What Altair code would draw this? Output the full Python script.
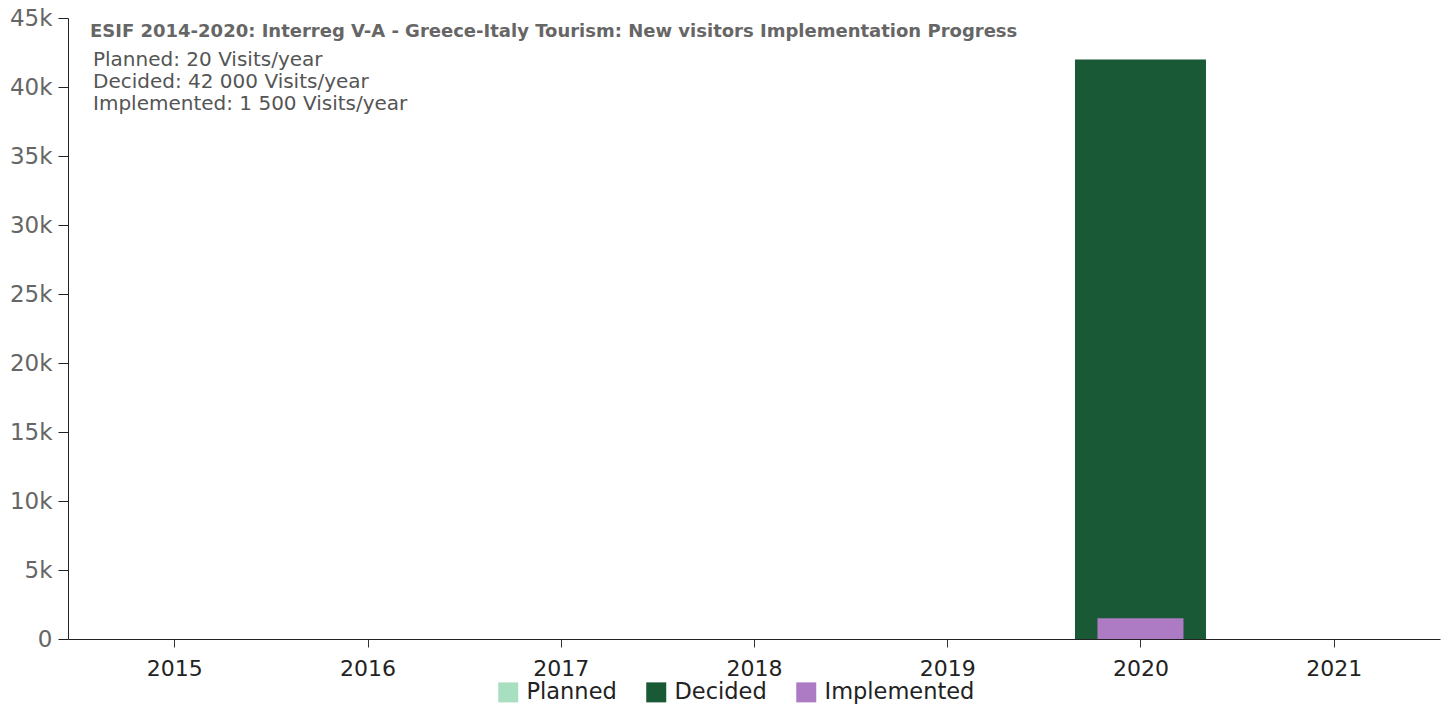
import altair as alt
import pandas as pd

series = ["Planned", "Decided", "Implemented"]
colors = ["#a8dfc0", "#195936", "#ad7ac4"]
years = [2020, 2020, 2020]
values = [20, 42000, 1500]
bar_px = [108, 131, 86]
year_ticks = [2015, 2016, 2017, 2018, 2019, 2020, 2021]
y_ticks = [0, 5000, 10000, 15000, 20000, 25000, 30000, 35000, 40000, 45000]

title_text = "ESIF 2014-2020: Interreg V-A - Greece-Italy Tourism: New visitors Implementation Progress"
sub_lines = ["Planned: 20 Visits/year", "Decided: 42 000 Visits/year", "Implemented: 1 500 Visits/year"]

df = pd.DataFrame({"series": series, "year": years, "value": values})

FONT = "DejaVu Sans"

xscale = alt.Scale(domain=[2014.45, 2021.55], nice=False, zero=False, padding=0)
yscale = alt.Scale(domain=[0, 45000], nice=False)
cscale = alt.Scale(domain=series, range=colors)

def bar_layer(i):
    return alt.Chart(df).transform_filter(
        alt.datum.series == series[i]
    ).mark_bar(size=bar_px[i]).encode(
        x=alt.X("year:Q", scale=xscale,
                axis=alt.Axis(values=year_ticks, format="d", title=None, grid=False,
                              labelFontSize=22, labelColor="#222", labelFont=FONT,
                              labelPadding=11, tickSize=8, tickColor="#333",
                              domainColor="#222", labelFlush=False)),
        y=alt.Y("value:Q", scale=yscale,
                axis=alt.Axis(values=y_ticks, title=None, grid=False,
                              labelExpr="datum.value == 0 ? '0' : (datum.value / 1000) + 'k'",
                              labelFontSize=23, labelColor="#666", labelFont=FONT,
                              labelPadding=6, tickSize=10, tickColor="#222",
                              domainColor="#222")),
        color=alt.Color("series:N", scale=cscale,
                        legend=alt.Legend(title=None, orient="none", direction="horizontal",
                                          legendX=429, legendY=663,
                                          symbolType="square", symbolSize=400,
                                          symbolStrokeWidth=0,
                                          labelFontSize=22.5, labelFont=FONT, labelColor="#222",
                                          columnPadding=28, labelOffset=7)),
    )

bars = [bar_layer(0), bar_layer(1), bar_layer(2)]

title_df = pd.DataFrame({"t": [title_text]})
title = alt.Chart(title_df).mark_text(
    align="left", baseline="middle", font=FONT, fontSize=18, fontWeight="bold", color="#666"
).encode(text="t:N", x=alt.value(22), y=alt.value(14))

sub_df = pd.DataFrame({"t": ["\n".join(sub_lines)]})
sub = alt.Chart(sub_df).mark_text(
    align="left", baseline="middle", font=FONT, fontSize=20, color="#555",
    lineBreak="\n", lineHeight=22
).encode(text="t:N", x=alt.value(25), y=alt.value(42))

chart = alt.layer(*bars, title, sub).properties(
    width=1372, height=621,
    background="white",
    autosize=alt.AutoSizeParams(type="none"),
    padding={"left": 68, "top": 18, "right": 10, "bottom": 67},
).configure_view(stroke=None)

chart.save("out.html", embed_options={"renderer": "svg", "actions": False})
